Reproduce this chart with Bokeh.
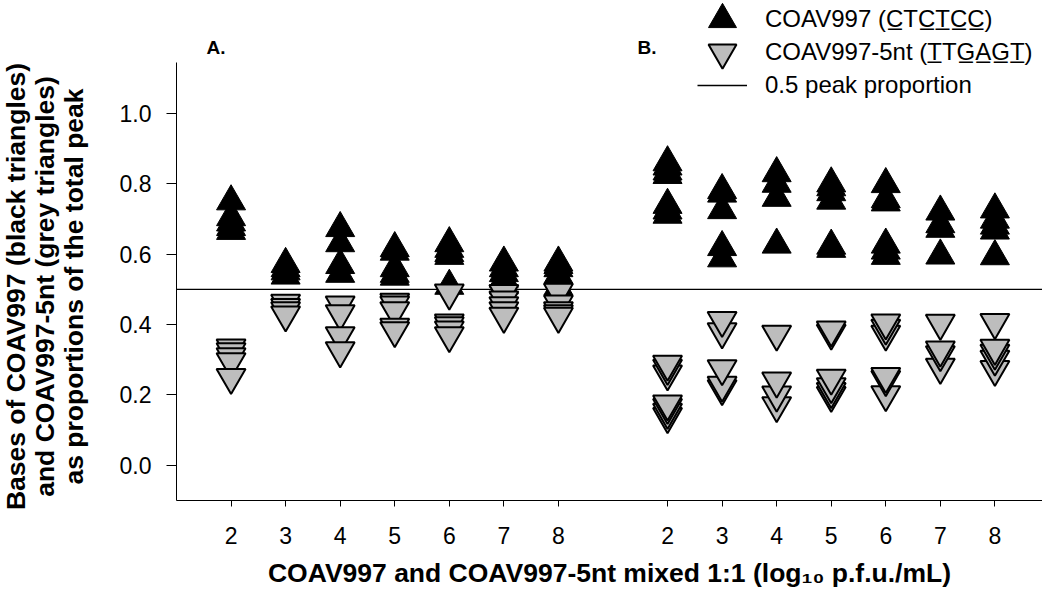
import math
from bokeh.plotting import figure
from bokeh.models import (ColumnDataSource, Range1d, FixedTicker, PrintfTickFormatter,
                          Label, Legend, LegendItem)
from bokeh.embed import file_html
from bokeh.resources import INLINE

# ---------------- data ----------------
conc = [2, 3, 4, 5, 6, 7, 8]          # log10 p.f.u./mL
tick_labels = ["2", "3", "4", "5", "6", "7", "8"]

# Panel A : proportions per concentration
a_coav997 = [
    [0.750, 0.705, 0.690, 0.677, 0.666],
    [0.572, 0.560, 0.551, 0.539],
    [0.674, 0.631, 0.569, 0.544],
    [0.617, 0.607, 0.560, 0.544, 0.536],
    [0.631, 0.615, 0.603, 0.595, 0.510],
    [0.576, 0.560, 0.546, 0.530, 0.511],
    [0.576, 0.569, 0.560, 0.541, 0.508],
]
a_coav997_5nt = [
    [0.334, 0.323, 0.309, 0.295, 0.250],
    [0.461, 0.449, 0.440, 0.428],
    [0.456, 0.431, 0.369, 0.326],
    [0.464, 0.456, 0.440, 0.393, 0.383],
    [0.490, 0.405, 0.397, 0.385, 0.369],
    [0.489, 0.470, 0.454, 0.440, 0.424],
    [0.492, 0.459, 0.440, 0.431, 0.424],
]
# Panel B
b_coav997 = [
    [0.861, 0.849, 0.835, 0.825, 0.740, 0.724, 0.712],
    [0.782, 0.772, 0.725, 0.620, 0.588],
    [0.830, 0.800, 0.760, 0.627],
    [0.801, 0.790, 0.776, 0.752, 0.624, 0.615],
    [0.799, 0.756, 0.747, 0.627, 0.610, 0.595],
    [0.721, 0.685, 0.672, 0.596],
    [0.727, 0.698, 0.681, 0.667, 0.594],
]
b_coav997_5nt = [
    [0.139, 0.151, 0.165, 0.175, 0.260, 0.276, 0.288],
    [0.218, 0.228, 0.275, 0.380, 0.412],
    [0.170, 0.200, 0.240, 0.373],
    [0.199, 0.210, 0.224, 0.248, 0.376, 0.385],
    [0.201, 0.244, 0.253, 0.373, 0.390, 0.405],
    [0.279, 0.315, 0.328, 0.404],
    [0.273, 0.302, 0.319, 0.333, 0.406],
]
half_peak = 0.5

# ---------------- layout ----------------
FONT = "Liberation Sans"
A_OFF = -1   # panel A: conc 2..8 -> positions 1..7
B_OFF = 7    # panel B: conc 2..8 -> positions 9..15
W, H = 1042, 587
X_LEFT_PX, Y_BOTTOM_PX = 176, 500          # where the axes cross on the canvas
PX_X, PX_Y = 54.56, 351.8                  # pixels per data unit
X_AX0, Y_AX0, Y_AX1 = 0.0, -0.1, 1.145     # extent of the drawn axes
x_start = X_AX0 - X_LEFT_PX / PX_X
x_end = x_start + W / PX_X
y_start = Y_AX0 - (H - Y_BOTTOM_PX) / PX_Y
y_end = Y_AX0 + Y_BOTTOM_PX / PX_Y


def points(groups, off):
    xs, ys = [], []
    for c, vals in zip(conc, groups):
        for v in vals:
            xs.append(c + off)
            ys.append(v)
    return xs, ys


xa1, ya1 = points(a_coav997, A_OFF)
xb1, yb1 = points(b_coav997, B_OFF)
xa2, ya2 = points(a_coav997_5nt, A_OFF)
xb2, yb2 = points(b_coav997_5nt, B_OFF)

src_black = ColumnDataSource(dict(x=xa1 + xb1, y=ya1 + yb1))
src_grey = ColumnDataSource(dict(x=xa2 + xb2, y=ya2 + yb2))

p = figure(width=W, height=H, output_backend="svg", toolbar_location=None,
           x_range=Range1d(x_start, x_end), y_range=Range1d(y_start, y_end),
           min_border=0)
p.outline_line_color = None
p.grid.visible = False
p.background_fill_color = "white"
p.border_fill_color = "white"

# x axis (placed inside the canvas at y = -0.1)
xticks = [c + A_OFF for c in conc] + [c + B_OFF for c in conc]
overrides = {}
for c, t in zip(conc, tick_labels):
    overrides[c + A_OFF] = t
    overrides[c + B_OFF] = t
xa = p.xaxis[0]
xa.fixed_location = Y_AX0
xa.bounds = (X_AX0, x_end)
xa.ticker = FixedTicker(ticks=xticks)
xa.major_label_overrides = overrides
xa.major_tick_out = 6
xa.major_tick_in = 0
xa.minor_tick_out = 0
xa.minor_tick_in = 0
xa.major_label_standoff = 20
xa.major_label_text_font = FONT
xa.major_label_text_font_size = "23px"
xa.major_label_text_color = "black"
xa.axis_line_color = "black"
xa.major_tick_line_color = "black"

# y axis (placed inside the canvas at x = 0)
ya = p.yaxis[0]
ya.fixed_location = X_AX0
ya.bounds = (Y_AX0, Y_AX1)
ya.ticker = FixedTicker(ticks=[0.0, 0.2, 0.4, 0.6, 0.8, 1.0])
ya.formatter = PrintfTickFormatter(format="%.1f")
ya.major_tick_out = 10
ya.major_tick_in = 0
ya.minor_tick_out = 0
ya.minor_tick_in = 0
ya.major_label_standoff = 15
ya.major_label_text_font = FONT
ya.major_label_text_font_size = "23px"
ya.major_label_text_color = "black"
ya.axis_line_color = "black"
ya.major_tick_line_color = "black"

# 0.5 reference line
r_line = p.line(x=[X_AX0, x_end], y=[half_peak, half_peak],
                line_color="black", line_width=1.3)

r_black = p.scatter("x", "y", source=src_black, marker="triangle", size=29,
                    fill_color="black", line_color="black", line_width=1)
r_grey = p.scatter("x", "y", source=src_grey, marker="inverted_triangle", size=29,
                   fill_color="#bdbdbd", line_color="black", line_width=2)

# legend: one Legend per entry so that the big keys keep the reference spacing
leg_common = dict(padding=0, margin=0, label_text_font=FONT,
                  label_text_font_size="24px", label_text_color="black",
                  border_line_color=None, background_fill_alpha=0)
p.add_layout(Legend(items=[LegendItem(
    label="COAV997 (C\u0332TC\u0332T\u0332C\u0332C\u0332)", renderers=[r_black])],
    location=(687, H - 54), glyph_width=70, glyph_height=70, label_standoff=8,
    **leg_common))
p.add_layout(Legend(items=[LegendItem(
    label="COAV997-5nt (T\u0332TG\u0332A\u0332G\u0332T\u0332)", renderers=[r_grey])],
    location=(687, H - 87), glyph_width=70, glyph_height=70, label_standoff=8,
    **leg_common))
p.add_layout(Legend(items=[LegendItem(
    label="0.5 peak proportion", renderers=[r_line])],
    location=(697, H - 100), glyph_width=50, glyph_height=30, label_standoff=18,
    **leg_common))

# panel letters
for txt, xpos in (("A.", 0.55), ("B.", 8.45)):
    p.add_layout(Label(x=xpos, y=1.188, text=txt, text_font=FONT,
                       text_font_style="bold", text_font_size="19px",
                       text_baseline="middle", text_color="black"))

# x title
p.add_layout(Label(x=7.936, y=-0.3047,
                   text="COAV997 and COAV997-5nt mixed 1:1 (log\u2081\u2080 p.f.u./mL)",
                   text_font=FONT, text_font_style="bold", text_font_size="26.5px",
                   text_align="center", text_baseline="alphabetic", text_color="black"))

# y title (three centred lines)
ytitle = ["Bases of COAV997 (black triangles)",
          "and COAV997-5nt (grey triangles)",
          "as proportions of the total peak"]
for txt, xpos in zip(ytitle, (-2.9326, -2.4102, -1.8878)):
    p.add_layout(Label(x=xpos, y=0.5083, text=txt, angle=math.pi / 2,
                       text_font=FONT, text_font_style="bold", text_font_size="26.5px",
                       text_align="center", text_baseline="middle", text_color="black"))

open("out.html", "w").write(file_html(p, INLINE))
